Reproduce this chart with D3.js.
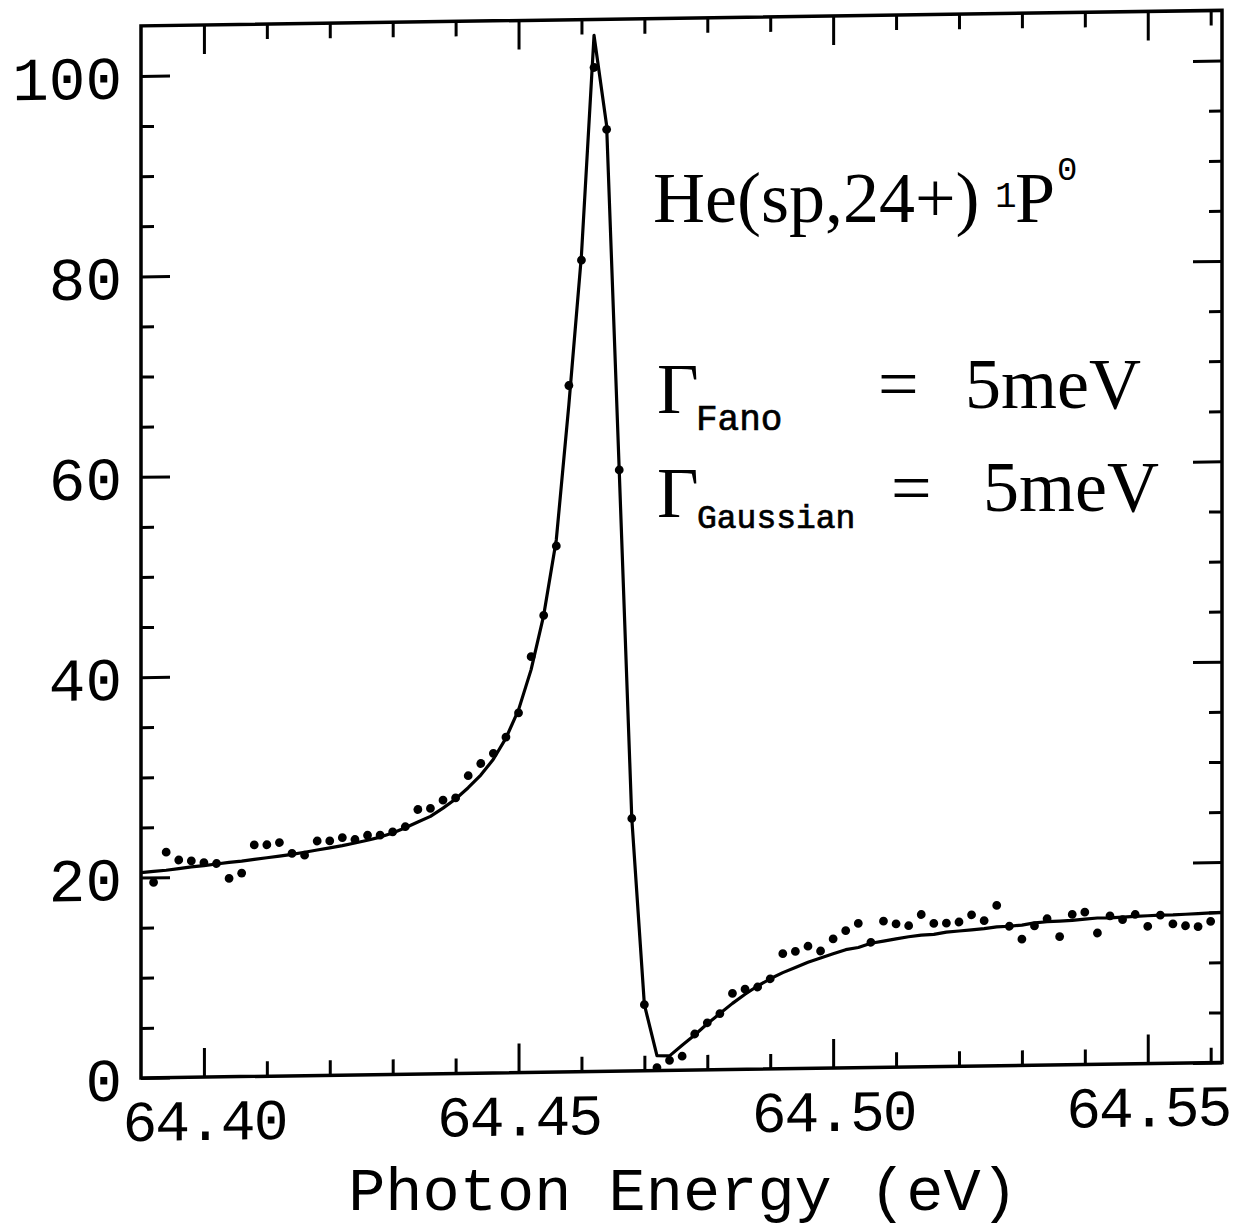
<!DOCTYPE html>
<html><head><meta charset="utf-8">
<script src="https://cdn.jsdelivr.net/npm/d3@7"></script>
<style>body{margin:0;background:#fff} svg{display:block}</style>
</head><body><svg id="c" width="1234" height="1229"></svg>
<script>
// Fit curve sampling energies (eV)
const energyCurve = [
64.390,64.392,64.394,64.396,64.398,64.400,64.402,64.404,64.406,64.408,
64.410,64.412,64.414,64.416,64.418,64.420,64.422,64.424,64.426,64.428,
64.430,64.432,64.434,64.436,64.438,64.440,64.442,64.444,64.446,64.448,
64.450,64.452,64.454,64.456,64.458,64.460,64.462,64.464,64.466,64.468,
64.470,64.472,64.474,64.476,64.478,64.480,64.482,64.484,64.486,64.488,
64.490,64.492,64.494,64.496,64.498,64.500,64.502,64.504,64.506,64.508,
64.510,64.512,64.514,64.516,64.518,64.520,64.522,64.524,64.526,64.528,
64.530,64.532,64.534,64.536,64.538,64.540,64.542,64.544,64.546,64.548,
64.550,64.552,64.554,64.556,64.558,64.560,64.562];
// Fit curve values
const fitCurve = [
20.5,20.6,20.7,20.85,21.0,21.1,21.25,21.4,21.5,21.65,
21.8,21.95,22.1,22.3,22.5,22.7,22.9,23.15,23.4,23.7,
24.1,24.6,25.15,25.7,26.5,27.4,28.5,29.75,31.3,33.4,
36.2,40.2,45.6,53.1,66.6,81.5,103.4,94.4,60.0,25.2,
6.6,1.5,1.45,2.5,3.5,4.6,5.6,6.6,7.5,8.3,
9.0,9.6,10.1,10.6,11.0,11.4,11.8,12.0,12.4,12.6,
12.8,13.0,13.15,13.2,13.4,13.5,13.6,13.7,13.85,13.9,
14.0,14.2,14.3,14.35,14.4,14.5,14.6,14.6,14.65,14.7,
14.75,14.8,14.8,14.85,14.9,14.95,15.0];
// Measured data energies (eV)
const energyData = [
64.392,64.394,64.396,64.398,64.400,64.402,64.404,64.406,64.408,64.410,
64.412,64.414,64.416,64.418,64.420,64.422,64.424,64.426,64.428,64.430,
64.432,64.434,64.436,64.438,64.440,64.442,64.444,64.446,64.448,64.450,
64.452,64.454,64.456,64.458,64.460,64.462,64.464,64.466,64.468,64.470,
64.472,64.474,64.476,64.478,64.480,64.482,64.484,64.486,64.488,64.490,
64.492,64.494,64.496,64.498,64.500,64.502,64.504,64.506,64.508,64.510,
64.512,64.514,64.516,64.518,64.520,64.522,64.524,64.526,64.528,64.530,
64.532,64.534,64.536,64.538,64.540,64.542,64.544,64.546,64.548,64.550,
64.552,64.554,64.556,64.558,64.560];
// Measured data values
const measured = [
19.5,22.5,21.7,21.6,21.4,21.3,19.8,20.3,23.1,23.1,
23.3,22.2,22.0,23.4,23.4,23.7,23.5,23.9,23.9,24.2,
24.7,26.4,26.5,27.3,27.5,29.7,30.9,31.9,33.5,35.9,
41.5,45.6,52.5,68.5,81.0,100.2,94.0,60.0,25.2,6.6,
0.3,1.0,1.4,3.6,4.7,5.6,7.6,8.0,8.2,9.0,
11.5,11.7,12.2,11.7,12.9,13.7,14.4,12.5,14.6,14.3,
14.1,15.2,14.3,14.3,14.4,15.1,14.5,16.0,13.9,12.6,
13.9,14.6,12.8,15.0,15.2,13.1,14.8,14.4,14.9,13.7,
14.8,13.9,13.7,13.6,14.1];

const xMajorTicks = [64.40,64.45,64.50,64.55];
const xTickLabels = ["64.40","64.45","64.50","64.55"];
const xMinorTicks = [64.41,64.42,64.43,64.44,64.46,64.47,64.48,64.49,64.51,64.52,64.53,64.54,64.56];
const yMajorTicks = [0,20,40,60,80,100];
const yTickLabels = ["0","20","40","60","80","100"];
const yMinorTicks = [5,10,15,25,30,35,45,50,55,65,70,75,85,90,95];

const xTitle = "Photon Energy (eV)";

const W = 1081;   // plot box width
const svg = d3.select("#c");
const skew = Math.atan(-15.5 / W) * 180 / Math.PI;
const g = svg.append("g").attr("transform", `translate(141,0) skewY(${skew})`);

const x = d3.scaleLinear().domain([64.39, 64.5618]).range([0, W]);
const y = d3.scaleLinear().domain([0, 105]).range([1078, 1078 - 105 * 10.02]);

g.append("clipPath").attr("id", "clip").append("rect")
  .attr("x", 0).attr("y", y(105)).attr("width", W).attr("height", y(0) - y(105));

function styleAxis(sel) {
  sel.select(".domain").remove();
  sel.selectAll(".tick line").attr("stroke", "#000").attr("stroke-width", 3);
}
const mono = "'Liberation Mono', 'Courier New', monospace";

// bottom
g.append("g").attr("transform", `translate(0,${y(0)})`)
  .call(d3.axisBottom(x).tickValues(xMinorTicks).tickSize(-15).tickFormat(""))
  .call(styleAxis);
const bx = g.append("g").attr("transform", `translate(0,${y(0)})`)
  .call(d3.axisBottom(x).tickValues(xMajorTicks).tickSize(-29)
    .tickFormat((d, i) => xTickLabels[i]))
  .call(styleAxis);
bx.selectAll("text").attr("y", 63).attr("dy", 0)
  .attr("font-family", mono).attr("font-size", 58).attr("fill", "#000")
  .attr("letter-spacing", -2);
// top
g.append("g").attr("transform", `translate(0,${y(105)})`)
  .call(d3.axisTop(x).tickValues(xMinorTicks).tickSize(-15).tickFormat(""))
  .call(styleAxis);
g.append("g").attr("transform", `translate(0,${y(105)})`)
  .call(d3.axisTop(x).tickValues(xMajorTicks).tickSize(-29).tickFormat(""))
  .call(styleAxis);
// left
g.append("g")
  .call(d3.axisLeft(y).tickValues(yMinorTicks).tickSize(-13).tickFormat(""))
  .call(styleAxis);
const ly = g.append("g")
  .call(d3.axisLeft(y).tickValues(yMajorTicks).tickSize(-29)
    .tickFormat((d, i) => yTickLabels[i]))
  .call(styleAxis);
ly.selectAll("text").attr("x", -19).attr("dy", "0.36em")
  .attr("font-family", mono).attr("font-size", 61).attr("fill", "#000");
// right
g.append("g").attr("transform", `translate(${W},0)`)
  .call(d3.axisRight(y).tickValues(yMinorTicks).tickSize(-13).tickFormat(""))
  .call(styleAxis);
g.append("g").attr("transform", `translate(${W},0)`)
  .call(d3.axisRight(y).tickValues(yMajorTicks).tickSize(-29).tickFormat(""))
  .call(styleAxis);

// frame
g.append("rect").attr("x", 0).attr("y", y(105)).attr("width", W).attr("height", y(0) - y(105))
  .attr("fill", "none").attr("stroke", "#000").attr("stroke-width", 3.5);

// fit curve
const curvePts = energyCurve.map((e, i) => [e, fitCurve[i]]);
g.append("path").datum(curvePts)
  .attr("clip-path", "url(#clip)")
  .attr("d", d3.line().x(d => x(d[0])).y(d => y(d[1])))
  .attr("fill", "none").attr("stroke", "#000").attr("stroke-width", 3.2)
  .attr("stroke-linejoin", "round");

// data points
g.append("g").selectAll("circle")
  .data(energyData.map((e, i) => [e, measured[i]]))
  .join("circle")
  .attr("cx", d => x(d[0])).attr("cy", d => y(d[1])).attr("r", 4.4)
  .attr("fill", "#000");

// annotations (absolute page coordinates)
const serif = "'Liberation Serif', 'Times New Roman', serif";
const ann = svg.append("g").attr("fill", "#000");
ann.append("text").attr("x", 653).attr("y", 222).attr("font-family", serif).attr("font-size", 72)
  .text("He(sp,24+)");
ann.append("text").attr("x", 995).attr("y", 207).attr("font-family", mono).attr("font-size", 36)
  .text("1");
ann.append("text").attr("x", 1015).attr("y", 222).attr("font-family", serif).attr("font-size", 72)
  .text("P");
ann.append("text").attr("x", 1057).attr("y", 180).attr("font-family", mono).attr("font-size", 34)
  .text("0");

const subStyle = s => s.attr("font-family", mono).attr("stroke", "#000").attr("stroke-width", 0.7);
ann.append("text").attr("x", 657).attr("y", 413).attr("font-family", serif).attr("font-size", 72).text("Γ");
ann.append("text").attr("x", 696).attr("y", 430).attr("font-size", 36).call(subStyle).text("Fano");
ann.append("text").attr("x", 878).attr("y", 408).attr("font-family", serif).attr("font-size", 72).text("=");
ann.append("text").attr("x", 965).attr("y", 408).attr("font-family", serif).attr("font-size", 72).text("5meV");

ann.append("text").attr("x", 657).attr("y", 517).attr("font-family", serif).attr("font-size", 72).text("Γ");
ann.append("text").attr("x", 697).attr("y", 528).attr("font-size", 33).call(subStyle).text("Gaussian");
ann.append("text").attr("x", 891).attr("y", 512).attr("font-family", serif).attr("font-size", 72).text("=");
ann.append("text").attr("x", 983).attr("y", 511).attr("font-family", serif).attr("font-size", 72).text("5meV");

// axis title
svg.append("text").attr("x", 683).attr("y", 1210).attr("text-anchor", "middle")
  .attr("font-family", mono).attr("font-size", 62).attr("fill", "#000").text(xTitle);
</script></body></html>
